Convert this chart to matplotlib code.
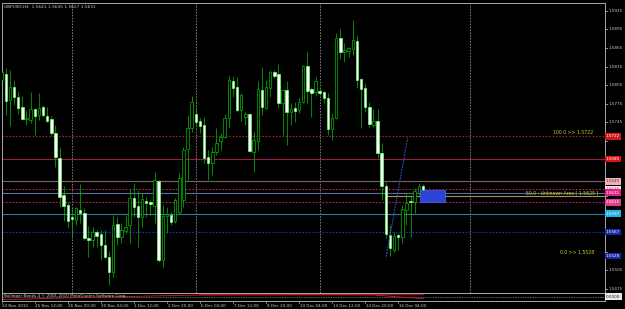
import matplotlib
matplotlib.use("Agg")
import matplotlib.pyplot as plt
from matplotlib.patches import Rectangle
import matplotlib.transforms as mtransforms

# ---------------- data (GBPUSD H4) ----------------
opens = [1.5813, 1.5823, 1.5781, 1.5802, 1.5786, 1.5770, 1.5750, 1.5749, 1.5766, 1.5757,
         1.5770, 1.5755, 1.5750, 1.5727, 1.5687, 1.5627, 1.5611, 1.5591, 1.5587, 1.5602,
         1.5598, 1.5557, 1.5554, 1.5567, 1.5564, 1.5546, 1.5527, 1.5502, 1.5580, 1.5559,
         1.5569, 1.5579, 1.5622, 1.5609, 1.5591, 1.5617, 1.5616, 1.5609, 1.5650, 1.5522,
         1.5593, 1.5594, 1.5585, 1.5599, 1.5619, 1.5702, 1.5736, 1.5758, 1.5747, 1.5740,
         1.5689, 1.5679, 1.5697, 1.5714, 1.5721, 1.5752, 1.5812, 1.5802, 1.5765, 1.5753,
         1.5758, 1.5697, 1.5714, 1.5797, 1.5768, 1.5800, 1.5826, 1.5823, 1.5776, 1.5797,
         1.5762, 1.5768, 1.5765, 1.5778, 1.5836, 1.5799, 1.5794, 1.5795, 1.5794, 1.5784,
         1.5734, 1.5752, 1.5881, 1.5859, 1.5860, 1.5863, 1.5876, 1.5815, 1.5800, 1.5770,
         1.5740, 1.5747, 1.5695, 1.5642, 1.5562, 1.5538, 1.5562, 1.5559, 1.5602, 1.5617,
         1.5616, 1.5630, 1.5641]
highs = [1.5836, 1.5833, 1.5829, 1.5812, 1.5794, 1.5787, 1.5765, 1.5794, 1.5768, 1.5792,
         1.5773, 1.5770, 1.5755, 1.5740, 1.5705, 1.5642, 1.5616, 1.5607, 1.5607, 1.5645,
         1.5606, 1.5577, 1.5575, 1.5570, 1.5570, 1.5570, 1.5535, 1.5594, 1.5591, 1.5582,
         1.5594, 1.5637, 1.5647, 1.5635, 1.5630, 1.5624, 1.5619, 1.5664, 1.5652, 1.5611,
         1.5607, 1.5599, 1.5622, 1.5663, 1.5705, 1.5757, 1.5787, 1.5770, 1.5752, 1.5753,
         1.5700, 1.5705, 1.5736, 1.5727, 1.5758, 1.5820, 1.5820, 1.5818, 1.5792, 1.5762,
         1.5760, 1.5729, 1.5812, 1.5834, 1.5813, 1.5829, 1.5829, 1.5839, 1.5799, 1.5812,
         1.5776, 1.5778, 1.5784, 1.5838, 1.5860, 1.5802, 1.5818, 1.5800, 1.5796, 1.5792,
         1.5760, 1.5889, 1.5896, 1.5873, 1.5867, 1.5910, 1.5886, 1.5817, 1.5808, 1.5778,
         1.5766, 1.5766, 1.5712, 1.5648, 1.5579, 1.5567, 1.5566, 1.5611, 1.5630, 1.5627,
         1.5638, 1.5647, 1.5645]
lows = [1.5808, 1.5757, 1.5739, 1.5773, 1.5758, 1.5749, 1.5740, 1.5744, 1.5724, 1.5749,
        1.5753, 1.5745, 1.5724, 1.5672, 1.5607, 1.5585, 1.5574, 1.5557, 1.5579, 1.5582,
        1.5554, 1.5527, 1.5543, 1.5543, 1.5522, 1.5525, 1.5481, 1.5494, 1.5546, 1.5549,
        1.5566, 1.5549, 1.5591, 1.5543, 1.5575, 1.5591, 1.5594, 1.5582, 1.5519, 1.5509,
        1.5566, 1.5579, 1.5582, 1.5597, 1.5607, 1.5652, 1.5729, 1.5740, 1.5727, 1.5679,
        1.5652, 1.5660, 1.5692, 1.5700, 1.5719, 1.5736, 1.5786, 1.5762, 1.5747, 1.5740,
        1.5697, 1.5664, 1.5700, 1.5757, 1.5766, 1.5786, 1.5817, 1.5768, 1.5724, 1.5708,
        1.5740, 1.5745, 1.5760, 1.5776, 1.5776, 1.5753, 1.5787, 1.5789, 1.5776, 1.5724,
        1.5716, 1.5750, 1.5847, 1.5842, 1.5851, 1.5854, 1.5800, 1.5736, 1.5762, 1.5737,
        1.5737, 1.5687, 1.5619, 1.5557, 1.5528, 1.5535, 1.5538, 1.5549, 1.5579, 1.5559,
        1.5598, 1.5627, 1.5627]
closes = [1.5826, 1.5779, 1.5802, 1.5786, 1.5768, 1.5750, 1.5752, 1.5766, 1.5755, 1.5768,
          1.5757, 1.5747, 1.5727, 1.5689, 1.5624, 1.5609, 1.5585, 1.5588, 1.5606, 1.5598,
          1.5557, 1.5554, 1.5567, 1.5561, 1.5546, 1.5527, 1.5502, 1.5579, 1.5559, 1.5570,
          1.5575, 1.5622, 1.5607, 1.5591, 1.5621, 1.5614, 1.5613, 1.5652, 1.5522, 1.5593,
          1.5596, 1.5583, 1.5619, 1.5655, 1.5700, 1.5736, 1.5778, 1.5745, 1.5739, 1.5687,
          1.5679, 1.5697, 1.5711, 1.5721, 1.5752, 1.5813, 1.5800, 1.5765, 1.5789, 1.5758,
          1.5698, 1.5716, 1.5799, 1.5770, 1.5802, 1.5826, 1.5820, 1.5776, 1.5797, 1.5762,
          1.5766, 1.5763, 1.5778, 1.5836, 1.5795, 1.5792, 1.5812, 1.5792, 1.5784, 1.5734,
          1.5752, 1.5881, 1.5859, 1.5862, 1.5865, 1.5878, 1.5813, 1.5799, 1.5770, 1.5742,
          1.5747, 1.5695, 1.5642, 1.5564, 1.5541, 1.5561, 1.5559, 1.5604, 1.5614, 1.5616,
          1.5634, 1.5642, 1.5631]

date_ticks = [0, 8, 16, 24, 32, 40, 48, 56, 64, 72, 80, 88, 96]
date_labels = ["24 Nov 2010", "25 Nov 12:00", "26 Nov 20:00", "30 Nov 04:00", "1 Dec 12:00",
               "2 Dec 20:00", "6 Dec 04:00", "7 Dec 12:00", "8 Dec 20:00", "10 Dec 04:00",
               "13 Dec 12:00", "14 Dec 20:00", "16 Dec 04:00"]
price_ticks = [1.5925, 1.5895, 1.5865, 1.5835, 1.5805, 1.5775, 1.5745, 1.5715, 1.5685,
               1.5655, 1.5625, 1.5595, 1.5565, 1.5535, 1.5505, 1.5475]
separators = [17, 47, 77, 113.4]

# horizontal lines: price, colour, style
hlines = [(1.5722, "#9a2a1a", (0, (1.5, 1.5))),
          (1.5685, "#a01848", "-"),
          (1.5649, "#7a6458", "-"),
          (1.5636, "#c02060", (0, (1.5, 1.5))),
          (1.5631, "#5a7090", "-"),
          (1.5615, "#c02060", (0, (1.5, 1.5))),
          (1.5597, "#2080a8", "-"),
          (1.5567, "#1030d8", (0, (1.5, 1.5)))]
# right axis price tags: price, box colour, text colour
tags = [(1.5722, "#d01818", "#ffffff"),
        (1.5685, "#e01010", "#ffffff"),
        (1.5649, "#f0b0b8", "#803040"),
        (1.5636, "#f0f0f0", "#d02070"),
        (1.5631, "#e02088", "#ffffff"),
        (1.5615, "#e0408a", "#ffffff"),
        (1.5597, "#20b4e8", "#ffffff"),
        (1.5567, "#1428a8", "#ffffff"),
        (1.5528, "#1428a8", "#ffffff")]

fib_start_bar = 93.1
fib_levels = [(1.5722, "100.0 >> 1.5722"), (1.5625, "50.0 - Unknown Area [ 1.5625 ]"),
              (1.5528, "0.0 >> 1.5528")]
trend_bars = [93.1, 98.3]
trend_prices = [1.5527, 1.5720]
box_bars = [101.3, 107.3]
box_prices = [1.5616, 1.5635]

ind_bars = [0, 6, 12, 24, 36, 48, 60, 72, 84, 90, 96, 102]
ind_red = [0.10, 0.18, 0.28, 0.42, 0.56, 0.68, 0.70, 0.72, 0.72, 0.70, 0.45, 0.25]
ind_dark_bars = [48, 60, 72, 84, 90, 96, 102]
ind_dark = [0.78, 0.78, 0.78, 0.78, 0.78, 0.76, 0.76]

# ---------------- layout ----------------
W, H = 625, 309
fig = plt.figure(figsize=(W / 100, H / 100), dpi=100, facecolor="black")
FONT = ["DejaVu Sans"]
TXT = "#c8c8c8"
FS = 3.0


def px_axes(x0, y0, x1, y1):
    return fig.add_axes([x0 / W, 1 - y1 / H, (x1 - x0) / W, (y1 - y0) / H])


ax = px_axes(2, 3, 605, 292.5)
ax.set_facecolor("black")
ax.set_xlim(0.07, 146.08)
ax.set_ylim(1.54692, 1.59379)
ax.set_xticks([])
ax.set_yticks([])
for s in ax.spines.values():
    s.set_color("#a8a8a8")
    s.set_linewidth(0.7)

# separators
for sx in separators:
    ax.axvline(sx, color="#8a8a8a", lw=0.6, ls=(0, (2, 1.5)), zorder=1)

# horizontal lines
for p, c, ls in hlines:
    ax.axhline(p, color=c, lw=0.8, ls=ls, zorder=1)
ax.hlines(fib_levels[1][0], fib_start_bar, 146.08, color="#a89060", lw=0.8, zorder=1)

# candles
for i, (o, h, l, c) in enumerate(zip(opens, highs, lows, closes)):
    ax.vlines(i, l, h, color="#00b000", lw=0.55, zorder=2)
    bull = c >= o
    hgt = max(abs(c - o), 0.00008)
    ax.bar(i, hgt, bottom=min(o, c), width=0.6,
           facecolor="black" if bull else "white",
           edgecolor="#00b800" if bull else "#70ff70", linewidth=0.5, zorder=3)

# trend line and box
ax.plot(trend_bars, trend_prices, color="#2a58d0", lw=0.7, ls=(0, (2, 1)), zorder=4)
ax.add_patch(Rectangle((box_bars[0], box_prices[0]), box_bars[1] - box_bars[0],
                       box_prices[1] - box_prices[0], facecolor="#2c44d8",
                       edgecolor="#4868ff", lw=0.5, zorder=4))

# fib texts
for p, lab, xr in [(fib_levels[0][0], fib_levels[0][1], 143.2),
                   (fib_levels[1][0], fib_levels[1][1], 144.5),
                   (fib_levels[2][0], fib_levels[2][1], 143.4)]:
    ax.text(xr, p + 0.0002, lab, ha="right", va="bottom",
            fontsize=3.3, color="#d8d020", family=FONT, zorder=5)

# right axis ticks and labels
trans = mtransforms.blended_transform_factory(ax.transAxes, ax.transData)
tag_prices = [t[0] for t in tags]
for p in price_ticks:
    ax.plot([1.0, 1.004], [p, p], color="#a8a8a8", lw=0.6, transform=trans, clip_on=False)
    if min(abs(p - tp) for tp in tag_prices) < 0.0009:
        continue  # hidden behind a price tag, as in the terminal
    ax.text(1.006, p, f"{p:.4f}", transform=trans, ha="left", va="center",
            fontsize=FS, color=TXT, family=FONT, clip_on=False)
for p, bc, tc in tags:
    ax.text(1.0015, p, f"{p:.4f}", transform=trans, ha="left", va="center",
            fontsize=FS, color=tc, family=FONT, clip_on=False, zorder=10,
            bbox=dict(boxstyle="square,pad=0.3", facecolor=bc, edgecolor="none"))

# title
fig.text(4 / W, 1 - 6.5 / H, "GBPUSD,H4  1.5641 1.5645 1.5627 1.5631", ha="left",
         va="center", fontsize=3.1, color=TXT, family=FONT)

# indicator sub-window
sub = px_axes(2, 292.5, 605, 300.5)
sub.set_facecolor("black")
sub.set_xlim(0.07, 146.08)
sub.set_ylim(0, 1)
sub.set_xticks([])
sub.set_yticks([])
for s in sub.spines.values():
    s.set_color("#a8a8a8")
    s.set_linewidth(0.7)
sub.axhline(0.5, color="#8a8a8a", lw=0.5, ls=(0, (2, 1.5)))
sub.plot(ind_dark_bars, ind_dark, color="#8a1030", lw=1.2)
sub.plot(ind_bars, ind_red, color="#e01818", lw=0.6)
sub.text(0.5, 0.5, "Bollinger Bands 4 © 2001-2010 MetaQuotes Software Corp.", ha="left",
         va="center", fontsize=FS, color=TXT, family=FONT)
sub.text(1.0015, 0.5, "0.0000", transform=sub.transAxes, ha="left", va="center",
         fontsize=FS, color="#202020", family=FONT, clip_on=False,
         bbox=dict(boxstyle="square,pad=0.3", facecolor="#e8e8e8", edgecolor="none"))

# date axis
for b, lab in zip(date_ticks, date_labels):
    sub.plot([b, b], [-0.05, -0.3], color="#a8a8a8", lw=0.5, clip_on=False)
    sub.text(b + 0.15, -0.45, lab, ha="left", va="top", fontsize=FS, color=TXT,
             family=FONT, clip_on=False)

fig.savefig("out.png", dpi=100, facecolor="black")
